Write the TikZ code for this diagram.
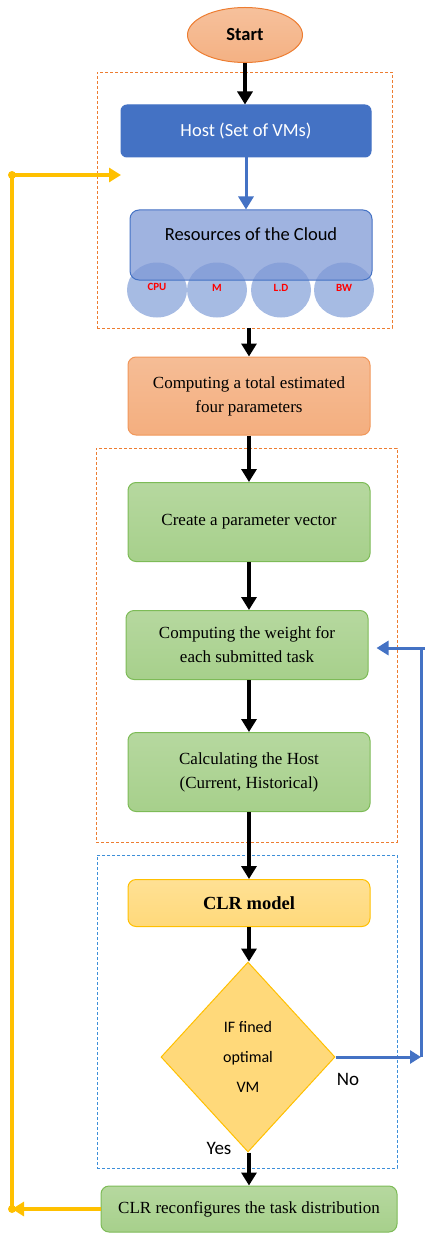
\documentclass[tikz,border=0pt]{standalone}
\usepackage{fontspec}
\setmainfont{Liberation Serif}
\newfontfamily\calibri{Carlito}
\usetikzlibrary{arrows.meta,shapes.geometric}
\definecolor{hostblue}{HTML}{4472C4}
\definecolor{darkorange}{HTML}{ED7D31}
\definecolor{lightorange}{HTML}{F4B183}
\definecolor{darkgreen}{HTML}{7DBB57}
\definecolor{lightgreen}{HTML}{A9D18E}
\definecolor{gold}{HTML}{FFC000}
\definecolor{lightgold}{HTML}{FFD97A}
\definecolor{dashblue}{HTML}{3D8FD9}
\definecolor{resblue}{HTML}{7F99D6}
\definecolor{circblue}{HTML}{A6BBE3}
\begin{document}
\begin{tikzpicture}[x=1pt,y=-1pt,
  stepbox/.style={draw,rounded corners=8pt,line width=1pt,align=center,inner sep=0pt,
    minimum width=242pt,font=\fontsize{17}{24}\selectfont},
  greenbox/.style={stepbox,draw=darkgreen,top color=lightgreen!85!white,bottom color=lightgreen!95!darkgreen},
  grpbox/.style={draw,dashed,line width=0.8pt,dash pattern=on 3pt off 2pt,inner sep=0pt},
  flow/.style={line width=3.5pt,-{Triangle[length=13pt,width=15pt]}},
  yline/.style={gold,line width=3.5pt},
  bline/.style={hostblue,line width=3pt},
  reslabel/.style={text=red,font=\calibri\bfseries\fontsize{11}{12}\selectfont},
  answer/.style={font=\calibri\fontsize{19}{22}\selectfont}]
\useasboundingbox (0,0) rectangle (425,1233);

\node[grpbox,draw=darkorange,minimum width=295pt,minimum height=256pt] (g1) at (244.5,200) {};
\node[grpbox,draw=darkorange,minimum width=301pt,minimum height=394pt] (g2) at (246.5,645) {};
\node[grpbox,draw=dashblue,minimum width=300pt,minimum height=313pt] (g3) at (247,1011.5) {};

\node[draw=darkorange,line width=1pt,ellipse,top color=lightorange!80!white,bottom color=lightorange,
  minimum width=115pt,minimum height=55pt,font=\calibri\bfseries\fontsize{18.5}{22}\selectfont] (start) at (245,35) {Start};

\node[stepbox,draw=hostblue,fill=hostblue,rounded corners=6pt,minimum width=250pt,minimum height=52pt,
  text=white,font=\calibri\fontsize{18.5}{22}\selectfont] (host) at (246,131) {Host (Set of VMs)};

\foreach \x/\n in {157/c1,217/c2,281/c3,344/c4}
  \node[ellipse,fill=circblue,minimum width=60pt,minimum height=55pt,inner sep=0pt] (\n) at (\x,290) {};
\node[stepbox,draw=hostblue,fill=resblue,fill opacity=0.75,text opacity=1,rounded corners=9pt,
  minimum height=70pt,text depth=22pt,font=\calibri\fontsize{18.5}{22}\selectfont] (res) at (251,245) {Resources of the Cloud};
\node[reslabel] at (157,287) {CPU};
\node[reslabel] at (217,288) {M};
\node[reslabel] at (281,288) {L.D};
\node[reslabel] at (344,288) {BW};

\node[stepbox,draw=darkorange!80,top color=lightorange!85!white,bottom color=lightorange!95!darkorange,
  minimum height=78pt] (total) at (249,396) {Computing a total estimated\\four parameters};
\node[greenbox,minimum height=79pt] (vector) at (249,522) {Create a parameter vector};
\node[greenbox,minimum height=69pt] (weight) at (247,645) {Computing the weight for\\each submitted task};
\node[greenbox,minimum height=79pt] (calc) at (249,772) {Calculating the Host\\(Current, Historical)};
\node[stepbox,draw=gold,top color=lightgold!80!white,bottom color=lightgold,minimum height=47pt,
  font=\bfseries\fontsize{18.5}{22}\selectfont] (clr) at (249,903) {CLR model};
\node[diamond,draw=gold,line width=1pt,fill=lightgold,minimum width=174pt,minimum height=190pt,
  inner sep=0pt,align=center,font=\calibri\fontsize{16}{30}\selectfont] (dec) at (248,1057) {IF fined\\optimal\\VM};
\node[greenbox,minimum width=296pt,minimum height=46pt] (reconf) at (249,1209) {CLR reconfigures the task distribution};

\node[answer] (no) at (348,1079) {No};
\node[answer] (yes) at (219,1148) {Yes};

\coordinate (ytop) at (12,175);
\coordinate (ybot) at (12,1209);
\coordinate (yend) at (121,175);
\coordinate (btop) at (421,648);
\coordinate (bbot) at (421,1057);
\coordinate (bcap) at (425,648);

\draw[flow] (start.south) -- (start.south |- host.north);
\draw[flow,hostblue,line width=3pt] (host.south) -- (host.south |- res.north);
\draw[flow] (g1.south -| total.north) -- (total.north);
\draw[flow] (total.south) -- (vector.north);
\draw[flow] (vector.south) -- (vector.south |- weight.north);
\draw[flow] (calc.north |- weight.south) -- (calc.north);
\draw[flow] (calc.south) -- (clr.north);
\draw[flow] (clr.south) -- (clr.south |- dec.north);
\draw[flow] (dec.south -| reconf.north) -- (reconf.north);

\draw[yline,-{Triangle[length=12pt,width=14pt]}] (reconf.west) -- (ybot);
\draw[yline,-{Triangle[length=12pt,width=14pt]}] (ybot) -- (ytop) -- (yend);
\fill[gold] (ytop) circle (4pt) (ybot) circle (4pt);

\draw[bline,-{Triangle[length=11pt,width=13pt]}] (dec.east) -- (bbot);
\draw[bline,-{Triangle[length=12pt,width=14pt]},shorten >=8pt] (bbot) -- (btop) -- (btop -| weight.east);
\draw[bline,line cap=round] (btop) -- (bcap);
\end{tikzpicture}
\end{document}
